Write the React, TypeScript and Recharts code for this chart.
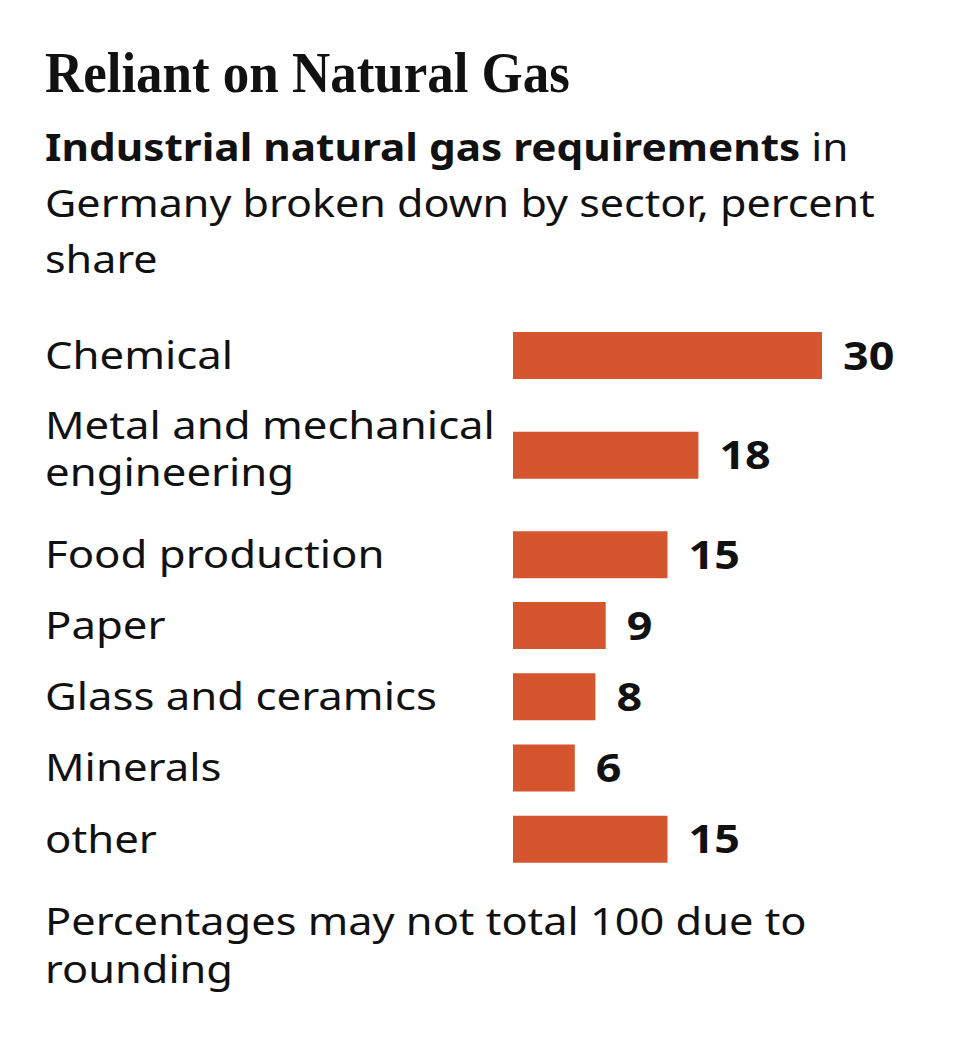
import React from "react";
import { BarChart, Bar, XAxis, YAxis, LabelList } from "recharts";

const categories = [
  "Chemical",
  "Metal and mechanical engineering",
  "Food production",
  "Paper",
  "Glass and ceramics",
  "Minerals",
  "other",
];
const shares = [30, 18, 15, 9, 8, 6, 15];

const title = "Reliant on Natural Gas";
const subtitleBold = "Industrial natural gas requirements";
const subtitleLine1Rest = " in";
const subtitleLines = ["Germany broken down by sector, percent", "share"];
const footnoteLines = ["Percentages may not total 100 due to", "rounding"];

const rows = categories.map((name, i) => ({ name, value: shares[i] }));
const topRows = rows.slice(0, 3);
const bottomRows = rows.slice(3);

const BAR_COLOR = "#d4552e";
const FONT = "'Noto Sans', 'Open Sans', sans-serif";
const STRETCH = 1.15;

function wrap(text: string, max: number): string[] {
  const words = text.split(" ");
  const lines: string[] = [];
  let cur = "";
  for (const w of words) {
    const next = cur ? cur + " " + w : w;
    if (next.length > max && cur) {
      lines.push(cur);
      cur = w;
    } else cur = next;
  }
  if (cur) lines.push(cur);
  return lines;
}

const LeftTick = (props: any) => {
  const { y, payload } = props;
  const lines = wrap(String(payload.value), 20);
  const lh = 47;
  const start = -((lines.length - 1) * lh) / 2 - (lines.length > 1 ? 6 : 0);
  return (
    <g>
      {lines.map((l, i) => (
        <text
          key={i}
          transform={`translate(45, ${y + start + i * lh}) scale(${STRETCH}, 1)`}
          x={0}
          y={0}
          dy="0.35em"
          textAnchor="start"
          fill="#111"
          fontSize={38}
          fontFamily={FONT}
        >
          {l}
        </text>
      ))}
    </g>
  );
};

const ValueLabel = (props: any) => {
  const { x, y, width, height, value } = props;
  return (
    <text
      transform={`translate(${x + width + 21}, ${y + height / 2}) scale(${STRETCH}, 1)`}
      x={0}
      y={0}
      dy="0.36em"
      textAnchor="start"
      fill="#111"
      fontSize={39}
      fontWeight={700}
      fontFamily={FONT}
    >
      {value}
    </text>
  );
};

function Chart({ data, height }: { data: any[]; height: number }) {
  return (
    <BarChart
      layout="vertical"
      width={968}
      height={height}
      data={data}
      margin={{ top: 0, right: 146, bottom: 0, left: 0 }}
      barSize={47}
    >
      <XAxis type="number" domain={[0, 30]} hide />
      <YAxis
        type="category"
        dataKey="name"
        width={513}
        axisLine={false}
        tickLine={false}
        tick={<LeftTick />}
        interval={0}
      />
      <Bar dataKey="value" fill={BAR_COLOR} isAnimationActive={false}>
        <LabelList dataKey="value" content={<ValueLabel />} />
      </Bar>
    </BarChart>
  );
}

const lineStyle = (top: number, scale: number, lh: number): React.CSSProperties => ({
  position: "absolute",
  left: 45,
  top,
  fontFamily: FONT,
  fontSize: 38,
  lineHeight: `${lh}px`,
  color: "#111",
  whiteSpace: "nowrap",
  transform: `scaleX(${scale})`,
  transformOrigin: "0 0",
});

export default function App() {
  return (
    <div
      style={{
        position: "fixed",
        left: 0,
        top: 0,
        width: 968,
        height: 1042,
        background: "#fff",
        overflow: "hidden",
      }}
    >
      <div
        style={{
          position: "absolute",
          left: 45,
          top: 42,
          fontFamily: "'Liberation Serif', serif",
          fontWeight: 700,
          fontSize: 56,
          lineHeight: "62px",
          color: "#111",
          whiteSpace: "nowrap",
          transform: "scaleX(0.945)",
          transformOrigin: "0 0",
        }}
      >
        {title}
      </div>
      <div style={lineStyle(118, 1.113, 56)}>
        <span style={{ fontWeight: 700 }}>{subtitleBold}</span>
        {subtitleLine1Rest}
      </div>
      {subtitleLines.map((l, i) => (
        <div key={l} style={lineStyle(174 + i * 56, 1.133, 56)}>
          {l}
        </div>
      ))}
      <div style={{ position: "absolute", left: 0, top: 306 }}>
        <Chart data={topRows} height={299} />
      </div>
      <div style={{ position: "absolute", left: 0, top: 590 }}>
        <Chart data={bottomRows} height={285} />
      </div>
      {footnoteLines.map((l, i) => (
        <div key={l} style={lineStyle(896 + i * 48, 1.14, 48)}>
          {l}
        </div>
      ))}
    </div>
  );
}
